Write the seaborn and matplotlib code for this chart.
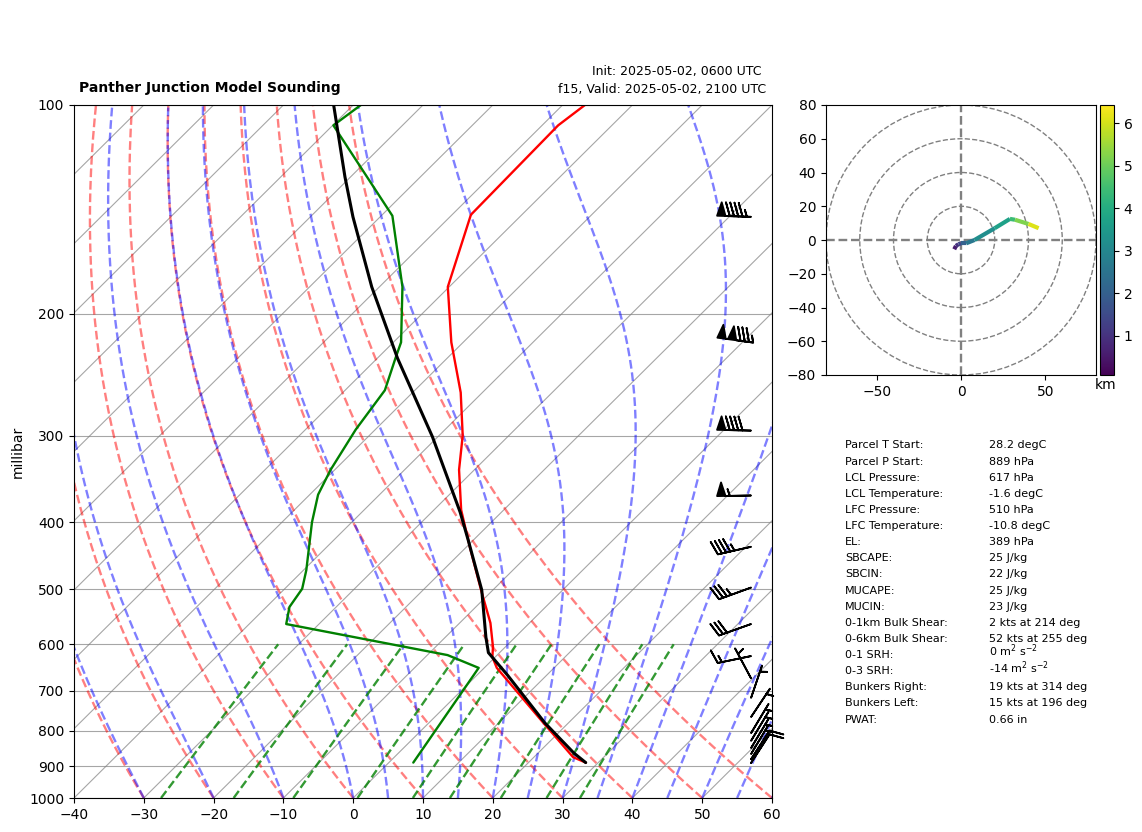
import numpy as np
import matplotlib
matplotlib.use('AGG')
import matplotlib.pyplot as plt
import seaborn as sns
from matplotlib.collections import LineCollection
from matplotlib.patches import Circle
from matplotlib.ticker import NullFormatter, ScalarFormatter

# sounding profiles, pressure in hPa and temperature in degC
temp_p = [100, 107, 144, 183, 220, 260, 300, 336, 384, 436, 501, 559, 605, 626, 649, 779, 873, 889]
temp_t = [-66.8, -67.7, -67.3, -60.2, -51.7, -43.1, -36.6, -32.2, -26.1, -19.3, -11.7, -5.6, -1.8, -0.4, 1.8, 16.4, 25.6, 28.2]
dewp_p = [100, 107, 144.5, 183, 220, 232, 258, 294, 336, 365, 400, 469, 499, 530, 561, 622, 649, 889]
dewp_t = [-98.9, -99.9, -78.4, -66.7, -58.9, -57.4, -54.3, -52.8, -50.6, -48.8, -45.7, -39.6, -37.5, -36.7, -34.7, -7.1, -0.8, 3.5]
parcel_p = [100, 127, 145, 183, 232, 301, 387, 424, 501, 586, 617, 665, 779, 861, 889]
parcel_t = [-102.8, -90.8, -83.9, -71.1, -57.1, -40.8, -25.9, -20.8, -11.6, -4.2, -1.6, 4.4, 16.6, 25.1, 28.2]

# wind barbs, knots
wind_p = [145, 220, 295, 366, 434, 497, 561, 624, 672, 717, 764, 806, 827, 847, 864, 879, 890]
wind_u = [95, 132, 92, 55, 44, 33, 28, 14.5, 3.2, -1.7, -3, -3, -3, -3, -3, -5.5, -5.5]
wind_v = [-3, -18, -2, 1, 10, 12, 10, 3, -6, -5, -4.5, -5, -5, -5, -5, -8.5, -8.5]

# hodograph, knots and km
hodo_u = [-4, -3, -1.5, 0, 3, 8, 20, 29, 32, 40, 46]
hodo_v = [-5.5, -3.5, -2.5, -2, -2, 0, 7, 12.5, 12, 9.5, 7]
hodo_z = [0.08, 0.6, 1.0, 1.4, 2.0, 2.6, 3.2, 3.7, 4.4, 5.2, 6.1]

stat_labels = ['Parcel T Start:', 'Parcel P Start:', 'LCL Pressure:', 'LCL Temperature:', 'LFC Pressure:',
               'LFC Temperature:', 'EL:', 'SBCAPE:', 'SBCIN:', 'MUCAPE:', 'MUCIN:', '0-1km Bulk Shear:',
               '0-6km Bulk Shear:', '0-1 SRH:', '0-3 SRH:', 'Bunkers Right:', 'Bunkers Left:', 'PWAT:']
stat_values = ['28.2 degC', '889 hPa', '617 hPa', '-1.6 degC', '510 hPa', '-10.8 degC', '389 hPa', '25 J/kg',
               '22 J/kg', '25 J/kg', '23 J/kg', '2 kts at 214 deg', '52 kts at 255 deg',
               r'0 m$^2$ s$^{-2}$', r'-14 m$^2$ s$^{-2}$', '19 kts at 314 deg', '15 kts at 196 deg', '0.66 in']

pressure_ticks = [100, 200, 300, 400, 500, 600, 700, 800, 900, 1000]
mixing_ratios = [0.0004, 0.001, 0.002, 0.004, 0.007, 0.01, 0.016, 0.024, 0.032]

SKEW = 100.0  # degC per decade of pressure
W, H = 1142, 832


def skew(t, p):
    return np.asarray(t, dtype=float) + SKEW * np.log10(1000.0 / np.asarray(p, dtype=float))


def moist_curve(t0, p):
    # simple stepping of the moist adiabatic lapse rate
    out = [t0 + 273.15]
    for i in range(1, len(p)):
        tk = out[-1]
        es = 6.112 * np.exp(17.67 * (tk - 273.15) / (tk - 29.65))
        rs = 0.622 * es / (p[i - 1] - es)
        rs = max(rs, 0.0)
        grad = (287.0 * tk + 2.501e6 * rs) / (1005.0 + 2.501e6 ** 2 * rs * 0.622 / (287.0 * tk ** 2))
        out.append(tk + grad * np.log(p[i] / p[i - 1]))
    return np.array(out) - 273.15


def axes_px(left, top, right, bottom):
    return [left / W, 1 - bottom / H, (right - left) / W, (bottom - top) / H]


sns.set_style('ticks', rc={'axes.edgecolor': 'black', 'text.color': 'black', 'xtick.color': 'black',
                           'ytick.color': 'black', 'axes.labelcolor': 'black'})
plt.rcParams['font.family'] = ['DejaVu Sans']
plt.rcParams['font.size'] = 10
plt.rcParams['mathtext.default'] = 'regular'

fig = plt.figure(figsize=(W / 100, H / 100), dpi=100)
ax = fig.add_axes(axes_px(74, 105, 772, 798))
ax.set_yscale('log')

# isotherms and isobars
for t in range(-140, 61, 10):
    ax.plot(skew([t, t], [1000, 100]), [1000, 100], color='gray', lw=0.8, alpha=0.7)
for p in pressure_ticks:
    ax.axhline(p, color='gray', lw=0.8, alpha=0.7)

plev = np.linspace(1000, 100, 400)
for t0 in range(-40, 61, 10):
    tk = (t0 + 273.15) * (plev / 1000.0) ** 0.2857 - 273.15
    ax.plot(skew(tk, plev), plev, color='r', ls='--', lw=1.7, alpha=0.5)
for t0 in list(range(-40, 0, 10)) + list(range(0, 61, 5)):
    ax.plot(skew(moist_curve(t0, plev), plev), plev, color='b', ls='--', lw=1.7, alpha=0.5)

pmix = np.linspace(1000, 600, 30)
for w in mixing_ratios:
    lnes = np.log(pmix * w / (0.622 + w) / 6.112)
    td = 243.5 * lnes / (17.67 - lnes)
    ax.plot(skew(td, pmix), pmix, color='g', ls='--', lw=1.7, alpha=0.8)

sns.lineplot(x=skew(temp_t, temp_p), y=temp_p, sort=False, estimator=None, color='r', lw=1.7, ax=ax)
sns.lineplot(x=skew(dewp_t, dewp_p), y=dewp_p, sort=False, estimator=None, color='g', lw=1.7, ax=ax)
sns.lineplot(x=skew(parcel_t, parcel_p), y=parcel_p, sort=False, estimator=None, color='k', lw=2.2, ax=ax)

ax.barbs(np.full(len(wind_p), 57.0), wind_p, wind_u, wind_v, pivot='tip', length=7, linewidth=1.3,
         clip_on=False, zorder=5, color='k')

ax.set_xlim(-40, 60)
ax.set_ylim(1000, 100)
ax.set_xticks(range(-40, 61, 10))
ax.set_yticks(pressure_ticks)
ax.yaxis.set_major_formatter(ScalarFormatter())
ax.yaxis.set_minor_formatter(NullFormatter())
ax.tick_params(axis='y', which='minor', length=0)
ax.set_xlabel('')
ax.set_ylabel('millibar', labelpad=3)

fig.text(79 / W, 1 - 92 / H, 'Panther Junction Model Sounding', fontsize=10, fontweight='bold')
fig.text(762 / W, 1 - 75 / H, 'Init: 2025-05-02, 0600 UTC', fontsize=9, ha='right')
fig.text(766 / W, 1 - 93 / H, 'f15, Valid: 2025-05-02, 2100 UTC', fontsize=9, ha='right')

# hodograph
hax = fig.add_axes(axes_px(826, 105, 1096, 375))
for r in [20, 40, 60, 80]:
    hax.add_patch(Circle((0, 0), r, fill=False, color='gray', ls='--', lw=1))
hax.axhline(0, color='gray', ls='--', lw=1.7)
hax.axvline(0, color='gray', ls='--', lw=1.7)
pts = np.column_stack([hodo_u, hodo_v]).reshape(-1, 1, 2)
segs = np.concatenate([pts[:-1], pts[1:]], axis=1)
lc = LineCollection(segs, cmap='viridis', norm=plt.Normalize(0.08, 6.43), lw=3)
lc.set_array(np.array(hodo_z[1:]))
hax.add_collection(lc)
hax.set_xlim(-80, 80)
hax.set_ylim(-80, 80)
hax.set_xticks([-50, 0, 50])
hax.set_yticks(range(-80, 81, 20))

cax = fig.add_axes(axes_px(1100, 105, 1114, 375))
fig.colorbar(lc, cax=cax, ticks=[1, 2, 3, 4, 5, 6])
fig.text(1106 / W, 1 - 389 / H, 'km', fontsize=10, ha='center')

# stats table
for i, (lab, val) in enumerate(zip(stat_labels, stat_values)):
    y = 448.5 + i * 16.12
    fig.text(845 / W, 1 - y / H, lab, fontsize=8)
    fig.text(989 / W, 1 - (y - (2 if '$' in val else 0)) / H, val, fontsize=8)

fig.savefig('out.png', dpi=100)
